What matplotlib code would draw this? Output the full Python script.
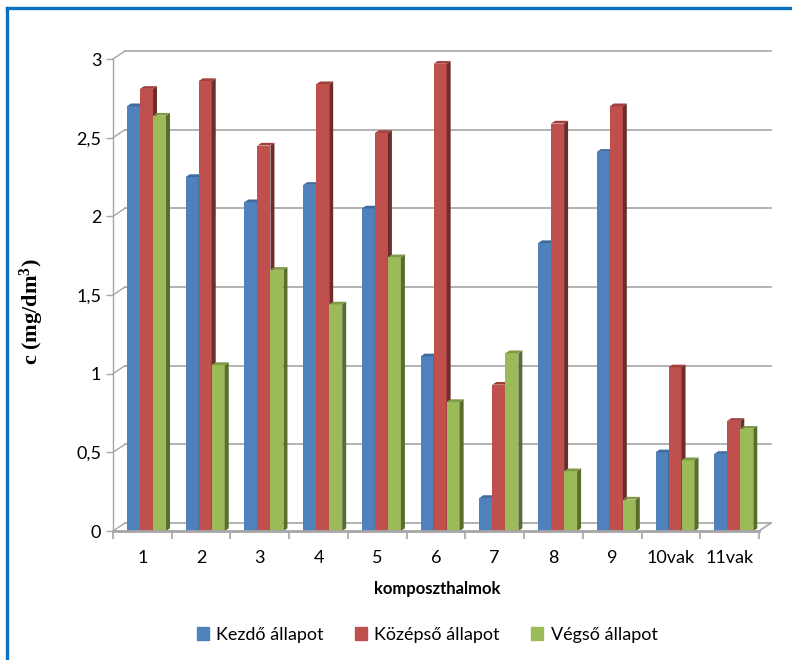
import matplotlib
matplotlib.use("Agg")
import matplotlib.pyplot as plt
from matplotlib.patches import Polygon, Patch
from matplotlib.lines import Line2D

# values read per compost heap
categories = ["1", "2", "3", "4", "5", "6", "7", "8", "9", "10vak", "11vak"]
kezdo = [2.70, 2.25, 2.09, 2.20, 2.05, 1.11, 0.21, 1.83, 2.41, 0.50, 0.49]
kozepso = [2.81, 2.86, 2.45, 2.84, 2.53, 2.97, 0.93, 2.59, 2.70, 1.04, 0.70]
vegso = [2.64, 1.055, 1.66, 1.44, 1.74, 0.82, 1.13, 0.38, 0.20, 0.45, 0.65]
series_names = ["Kezdő állapot", "Középső állapot", "Végső állapot"]
yticks = [0, 0.5, 1, 1.5, 2, 2.5, 3]
ytick_labels = ["0", "0,5", "1", "1,5", "2", "2,5", "3"]

front = ["#4F81BD", "#C0504D", "#9BBB59"]
side = ["#2F4F78", "#6E2C2A", "#5C6B2E"]
top = ["#3E6A9E", "#A23F3C", "#7E9A45"]
grid_col = "#A6A6A6"

plt.rcParams["font.family"] = ["Lato", "DejaVu Sans"]
plt.rcParams["mathtext.fontset"] = "custom"
plt.rcParams["mathtext.rm"] = "Liberation Serif:bold"
plt.rcParams["mathtext.it"] = "Liberation Serif:bold"
plt.rcParams["mathtext.bf"] = "Liberation Serif:bold"

W, H = 792, 660
fig = plt.figure(figsize=(W / 100, H / 100), dpi=100)
ax_l, ax_r, ax_t, ax_b = 113, 759, 59, 531
ax = fig.add_axes([ax_l / W, 1 - ax_b / H, (ax_r - ax_l) / W, (ax_b - ax_t) / H])
n = len(categories)
ax.set_xlim(0, n)
ax.set_ylim(0, 3)

# pixel -> data unit conversion for the fake depth
px_x = n / (ax_r - ax_l)
px_y = 3 / (ax_b - ax_t)
DX, DY = 12 * px_x, 8 * px_y        # back wall offset
ddx, ddy = 4 * px_x, 2.7 * px_y     # bar depth

# back wall gridlines + connectors to the front axis
for v in yticks:
    ax.plot([DX, n + DX], [v + DY, v + DY], color=grid_col, lw=1.2,
            clip_on=False, zorder=1)
    ax.plot([0, DX], [v, v + DY], color=grid_col, lw=1, clip_on=False, zorder=1)
ax.plot([n, n + DX], [0, DY], color=grid_col, lw=1.2, clip_on=False, zorder=1)

# 3d-looking columns
bw = 13 * px_x
start = 14 * px_x
for j, vals in enumerate([kezdo, kozepso, vegso]):
    for i, v in enumerate(vals):
        x0 = i + start + j * bw
        z = 3 + j
        ax.bar(x0, v, width=bw, align="edge", color=front[j], lw=0, zorder=z)
        ax.add_patch(Polygon([(x0 + bw, 0), (x0 + bw + ddx, ddy),
                              (x0 + bw + ddx, v + ddy), (x0 + bw, v)],
                             closed=True, fc=side[j], lw=0, zorder=z))
        ax.add_patch(Polygon([(x0, v), (x0 + ddx, v + ddy),
                              (x0 + bw + ddx, v + ddy), (x0 + bw, v)],
                             closed=True, fc=top[j], lw=0, zorder=z))

for s in ["top", "right"]:
    ax.spines[s].set_visible(False)
ax.spines["left"].set_color(grid_col)
ax.spines["left"].set_linewidth(1)
ax.spines["bottom"].set_color(grid_col)
ax.spines["bottom"].set_linewidth(2)
ax.spines["bottom"].set_zorder(10)

ax.set_yticks(yticks)
ax.set_yticklabels(ytick_labels)
ax.tick_params(axis="y", length=5, width=1, color=grid_col, pad=3.5,
               labelsize=13, labelcolor="black")
ax.set_xticks(range(n + 1))
ax.set_xticklabels([])
ax.tick_params(axis="x", which="major", length=6, width=1.2, color=grid_col)
ax.set_xticks([i + 0.5 for i in range(n)], minor=True)
ax.set_xticklabels(categories, minor=True)
ax.tick_params(axis="x", which="minor", length=0, pad=14, labelsize=13)

fig.text(437 / W, 1 - 589 / H, "komposzthalmok", ha="center", va="center",
         fontsize=12, fontweight="bold")
fig.text(32 / W, 1 - 312 / H, r"c (mg/dm$^3$)", rotation=90, ha="center",
         va="center", fontsize=16, fontweight="bold",
         family="Liberation Serif")

handles = [Patch(color=c) for c in front]
fig.legend(handles, series_names, loc="center", bbox_to_anchor=(427 / W, 1 - 635 / H),
           ncol=3, frameon=False, fontsize=13, handlelength=0.7,
           handleheight=0.7, handletextpad=0.4, columnspacing=1.7,
           borderpad=0, borderaxespad=0)

# blue frame edges
fig.add_artist(Line2D([7 / W, 7 / W], [0, 1 - 8 / H], color="#0A70C0", lw=2.4))
fig.add_artist(Line2D([7 / W, 1], [1 - 8 / H, 1 - 8 / H], color="#0A70C0", lw=2.4))

fig.savefig("out.png", dpi=100)
